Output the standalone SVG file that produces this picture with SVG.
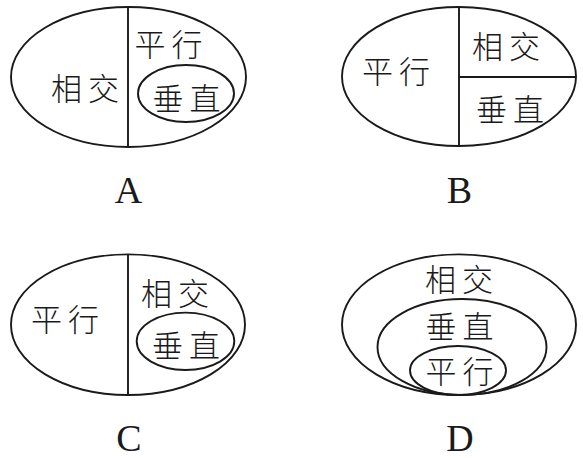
<svg xmlns="http://www.w3.org/2000/svg" width="583" height="458" viewBox="0 0 583 458">
<style>
.s{fill:none;stroke:#1a1a1a;stroke-width:1.9}
.t{font-family:"Noto Sans CJK SC","Noto Sans CJK JP",sans-serif;font-size:31px;font-weight:300;fill:#1a1a1a;text-anchor:middle;dominant-baseline:central}
.l{font-family:"Liberation Serif","Times New Roman",serif;font-size:38px;fill:#1a1a1a;text-anchor:middle}
</style>
<rect width="583" height="458" fill="#fff"/>
<g id="A">
<ellipse class="s" cx="128.5" cy="77" rx="117.5" ry="70"/>
<line class="s" x1="128" y1="7" x2="128" y2="147"/>
<ellipse class="s" cx="186" cy="93.5" rx="48" ry="28.5"/>
<text class="t" x="66.5 103.5" y="86">相交</text>
<text class="t" x="150 187" y="42.5">平行</text>
<text class="t" x="168 205" y="96">垂直</text>
<text class="l" x="128.5" y="203">A</text>
</g>
<g id="B">
<ellipse class="s" cx="459" cy="76.5" rx="117" ry="69.5"/>
<line class="s" x1="459" y1="7" x2="459" y2="146"/>
<line class="s" x1="459" y1="77" x2="576" y2="77"/>
<text class="t" x="377.5 414.5" y="69">平行</text>
<text class="t" x="487.5 524.5" y="44">相交</text>
<text class="t" x="491.5 528.5" y="107">垂直</text>
<text class="l" x="459.5" y="203">B</text>
</g>
<g id="C">
<ellipse class="s" cx="128" cy="324.7" rx="117" ry="70.3"/>
<line class="s" x1="128" y1="254.4" x2="128" y2="395"/>
<ellipse class="s" cx="185.5" cy="341.3" rx="48.8" ry="28.7"/>
<text class="t" x="46.5 83.5" y="317">平行</text>
<text class="t" x="156.5 193.5" y="291">相交</text>
<text class="t" x="167.5 204.5" y="343.5">垂直</text>
<text class="l" x="129" y="451">C</text>
</g>
<g id="D">
<ellipse class="s" cx="459" cy="324.7" rx="117" ry="70.3"/>
<ellipse class="s" cx="462" cy="347" rx="84.5" ry="48"/>
<ellipse class="s" cx="458" cy="370.5" rx="48" ry="24.5"/>
<text class="t" x="440.5 477.5" y="277">相交</text>
<text class="t" x="441 478" y="324">垂直</text>
<text class="t" x="441 478" y="369">平行</text>
<text class="l" x="460" y="451">D</text>
</g>
</svg>
